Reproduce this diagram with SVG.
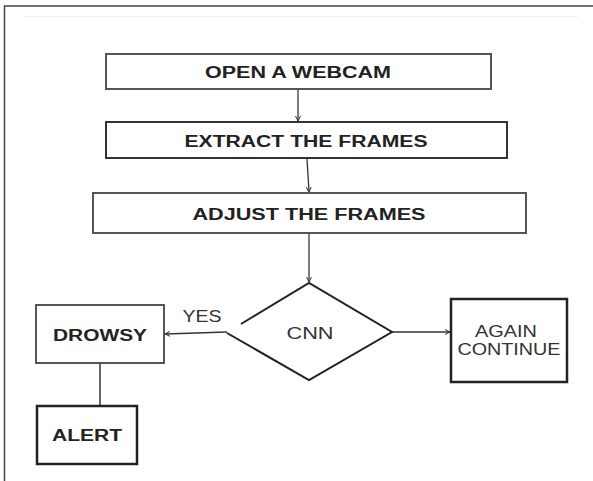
<svg xmlns="http://www.w3.org/2000/svg" width="593" height="481" viewBox="0 0 593 481">
<defs>
<marker id="ah" markerWidth="6" markerHeight="6" refX="5" refY="3" orient="auto" markerUnits="userSpaceOnUse">
<path d="M0,0.5 L5,3 L0,5.5" fill="none" stroke="#333" stroke-width="1"/>
</marker>
<style>
.box{fill:#fff;stroke:#333;stroke-width:2}
.b{font-family:"Liberation Sans",Arial,sans-serif;font-weight:bold;font-size:16px;fill:#222;text-anchor:middle}
.r{font-family:"Liberation Sans",Arial,sans-serif;font-size:16px;fill:#333;text-anchor:middle}
.c{fill:none;stroke:#333;stroke-width:1.3}
</style>
</defs>
<rect width="593" height="481" fill="#fff"/>
<g id="frame">
<path d="M4.5,481 L4.5,6 L593,6" fill="none" stroke="#444" stroke-width="1.5"/>
<line x1="24" y1="16.5" x2="578" y2="16.5" stroke="#eee" stroke-width="1"/>
</g>
<g id="connectors">
<line class="c" x1="298" y1="89" x2="298" y2="121" marker-end="url(#ah)"/>
<line class="c" x1="307" y1="159" x2="309" y2="192" marker-end="url(#ah)"/>
<line class="c" x1="309" y1="233" x2="309" y2="282" marker-end="url(#ah)"/>
<line class="c" x1="227" y1="332" x2="165" y2="334" marker-end="url(#ah)"/>
<line class="c" x1="392" y1="332" x2="450" y2="332" marker-end="url(#ah)"/>
<line x1="100" y1="363" x2="100" y2="406" stroke="#666" stroke-width="2"/>
</g>
<g id="n1">
<rect class="box" x="106" y="54" width="385" height="35" style="stroke:#555"/>
<text class="b" x="298" y="78" textLength="186" lengthAdjust="spacingAndGlyphs">OPEN A WEBCAM</text>
</g>
<g id="n2">
<rect class="box" x="106" y="122" width="401" height="36"/>
<text class="b" x="306" y="147" textLength="243" lengthAdjust="spacingAndGlyphs">EXTRACT THE FRAMES</text>
</g>
<g id="n3">
<rect class="box" x="93" y="193" width="433" height="40" style="stroke:#555"/>
<text class="b" x="309" y="220" textLength="233" lengthAdjust="spacingAndGlyphs">ADJUST THE FRAMES</text>
</g>
<g id="cnn">
<path d="M241,324 L309,283 L392,332 L309,380 L227,333" fill="none" stroke="#222" stroke-width="2"/>
<text class="r" x="310" y="339" textLength="47" lengthAdjust="spacingAndGlyphs">CNN</text>
</g>
<g id="yes">
<text class="r" x="202" y="322" font-size="15" textLength="39" lengthAdjust="spacingAndGlyphs">YES</text>
</g>
<g id="drowsy">
<rect class="box" x="36" y="305" width="128" height="58" style="stroke:#444;stroke-width:1.8"/>
<text class="b" x="100" y="341" textLength="94" lengthAdjust="spacingAndGlyphs">DROWSY</text>
</g>
<g id="alert">
<rect class="box" x="37" y="406" width="100" height="58" style="stroke:#222;stroke-width:2.5"/>
<text class="b" x="87" y="441" textLength="70" lengthAdjust="spacingAndGlyphs">ALERT</text>
</g>
<g id="again">
<rect class="box" x="451" y="299" width="116" height="83" style="stroke:#222;stroke-width:2.5"/>
<text class="r" x="506" y="337" textLength="62" lengthAdjust="spacingAndGlyphs">AGAIN</text>
<text class="r" x="509" y="355" textLength="103" lengthAdjust="spacingAndGlyphs">CONTINUE</text>
</g>
</svg>
